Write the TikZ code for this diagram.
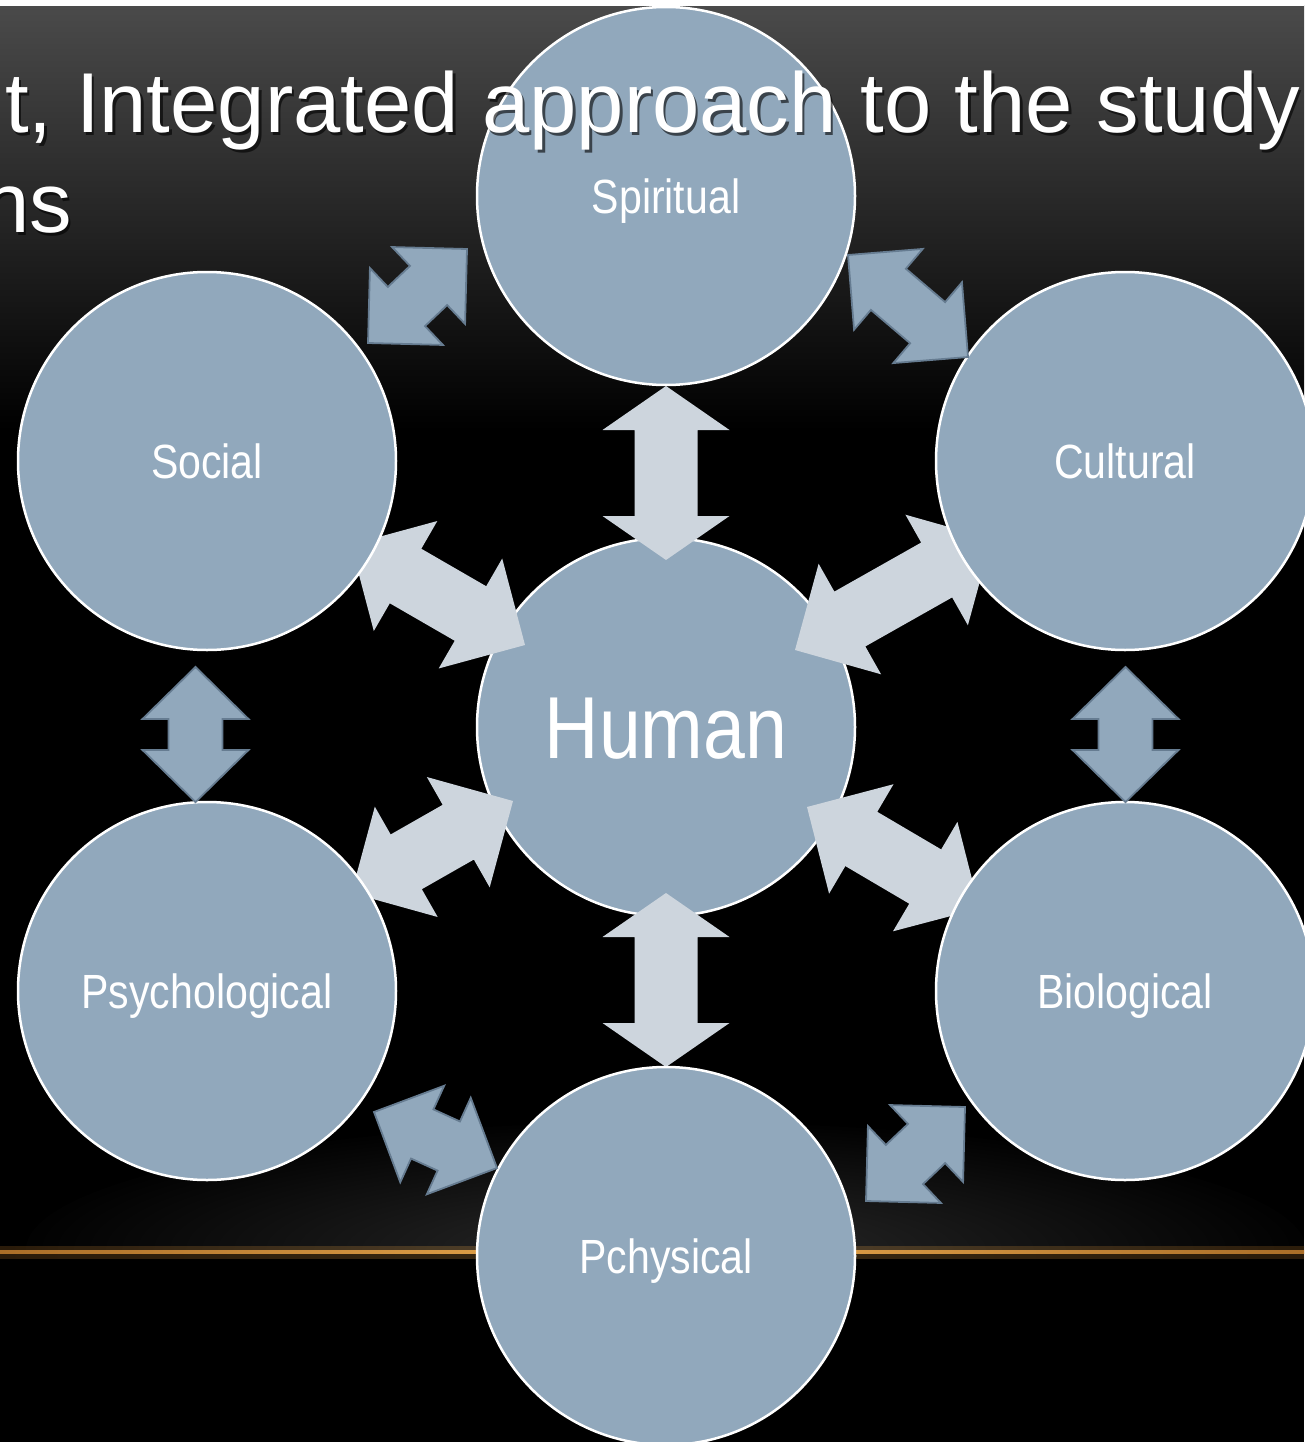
\documentclass[tikz,border=0pt]{standalone}
\usepackage{fontspec}
\setmainfont{Liberation Sans}
\newfontfamily\lblfont[FakeStretch=0.855]{Liberation Sans}
\usetikzlibrary{calc}
\definecolor{circfill}{RGB}{145,168,188}
\definecolor{lightarr}{RGB}{205,213,221}
\definecolor{arrborder}{RGB}{102,124,145}
\definecolor{topgray}{RGB}{74,74,74}
\definecolor{orcore}{RGB}{236,172,80}
\definecolor{ordark}{RGB}{170,110,40}
% double block arrow: #1 style, #2 tip A, #3 tip B, #4 head length, #5 head half width, #6 shaft half width
\newcommand{\dblarr}[6]{%
 \path[#1] (#2) -- ($(#2)!#4!(#3)!#5!90:(#3)$) -- ($(#2)!#4!(#3)!#6!90:(#3)$)
  -- ($(#3)!#4!(#2)!#6!-90:(#2)$) -- ($(#3)!#4!(#2)!#5!-90:(#2)$) -- (#3)
  -- ($(#3)!#4!(#2)!#5!90:(#2)$) -- ($(#3)!#4!(#2)!#6!90:(#2)$)
  -- ($(#2)!#4!(#3)!#6!-90:(#3)$) -- ($(#2)!#4!(#3)!#5!-90:(#3)$) -- cycle;}
\begin{document}
\begin{tikzpicture}[x=1pt,y=-1pt,
  bubble/.style={circle, fill=circfill, draw=white, line width=2.5pt, minimum size=378pt, inner sep=0pt},
  lbl/.style={text=white, font=\lblfont\fontsize{48}{58}\selectfont, inner sep=0pt, anchor=base},
  bigarrow/.style={fill=lightarr},
  smallarrow/.style={fill=circfill, draw=arrborder, line width=1.8pt, line join=miter},
  titletext/.style={text=white, font=\fontsize{85}{100}\selectfont, inner sep=0pt},
  titleshadow/.style={text=black, opacity=0.6, font=\fontsize{85}{100}\selectfont, inner sep=0pt}]
\useasboundingbox (0,0) rectangle (1304,1442);
% background
\fill[black] (0,0) rectangle (1304,1442);
\shade[top color=topgray, bottom color=black] (0,6) rectangle (1304,430);
\fill[white] (0,0) rectangle (1304,6);
\begin{scope}
  \clip (0,1100) rectangle (1304,1251);
  \foreach \i in {1,...,40}
    \fill[white, opacity=0.008] (666,1250) ellipse [x radius={16*\i}, y radius={3.2*\i}];
\end{scope}
\shade[left color=ordark, right color=ordark, middle color=orcore, opacity=0.25] (0,1246) rectangle (1304,1258);
\shade[left color=ordark, right color=ordark, middle color=orcore] (0,1250.5) rectangle (1304,1253.5);
% central circle
\node[bubble] (hum) at (666,727) {};
% light arrows (tips)
\coordinate (s1a) at (666,386);   \coordinate (s1b) at (666,560);
\coordinate (p1a) at (666,1067);  \coordinate (p1b) at (666,893);
\coordinate (so1a) at (351,544.5); \coordinate (so1b) at (525,645);
\coordinate (cu1a) at (991.5,539); \coordinate (cu1b) at (795,650);
\coordinate (ps1a) at (351.5,893); \coordinate (ps1b) at (513,801);
\coordinate (bi1a) at (979.5,908.5); \coordinate (bi1b) at (807,807);
\dblarr{bigarrow}{s1a}{s1b}{44pt}{63.5pt}{31.5pt}
\dblarr{bigarrow}{p1a}{p1b}{44pt}{63.5pt}{31.5pt}
\dblarr{bigarrow}{so1a}{so1b}{63pt}{63.5pt}{31.5pt}
\dblarr{bigarrow}{cu1a}{cu1b}{63pt}{63.5pt}{31.5pt}
\dblarr{bigarrow}{ps1a}{ps1b}{63pt}{63.5pt}{31.5pt}
\dblarr{bigarrow}{bi1a}{bi1b}{63pt}{63.5pt}{31.5pt}
% outer circles
\node[bubble] (spi) at (666,196) {};
\node[bubble] (soc) at (207,461) {};
\node[bubble] (cul) at (1125,461) {};
\node[bubble] (psy) at (207,991) {};
\node[bubble] (bio) at (1125,991) {};
\node[bubble] (phy) at (666,1256) {};
% small arrows between neighbours
\coordinate (a1) at (195.5,667); \coordinate (a2) at (195.5,802);
\coordinate (b1) at (1125.5,667); \coordinate (b2) at (1125.5,802);
\coordinate (c1) at (467,249); \coordinate (c2) at (368,343);
\coordinate (d1) at (848,255); \coordinate (d2) at (968,357);
\coordinate (e1) at (374,1112); \coordinate (e2) at (497,1168);
\coordinate (f1) at (965,1107); \coordinate (f2) at (866,1201);
\dblarr{smallarrow}{a1}{a2}{52pt}{53pt}{27pt}
\dblarr{smallarrow}{b1}{b2}{52pt}{53pt}{27pt}
\dblarr{smallarrow}{c1}{c2}{53pt}{53pt}{27pt}
\dblarr{smallarrow}{d1}{d2}{53pt}{53pt}{27pt}
\dblarr{smallarrow}{e1}{e2}{53pt}{53pt}{27pt}
\dblarr{smallarrow}{f1}{f2}{53pt}{53pt}{27pt}
% labels
\node[lbl] (lspi) at (666,213) {Spiritual};
\node[lbl] (lsoc) at (207,478) {Social};
\node[lbl] (lcul) at (1125,478) {Cultural};
\node[lbl] (lpsy) at (207,1008) {Psychological};
\node[lbl] (lbio) at (1125,1008) {Biological};
\node[lbl] (lphy) at (666,1273) {Pchysical};
\node[lbl, font=\lblfont\fontsize{88}{100}\selectfont] (lhum) at (666,758) {Human};
% title
\node[titleshadow, anchor=base west] at (7.5,135.5) {t, Integrated approach to the study};
\node[titletext, anchor=base west] (t1) at (5,133) {t, Integrated approach to the study};
\node[titleshadow, anchor=base east] at (74.5,235.5) {ns};
\node[titletext, anchor=base east] (t2) at (72,233) {ns};
\end{tikzpicture}
\end{document}
